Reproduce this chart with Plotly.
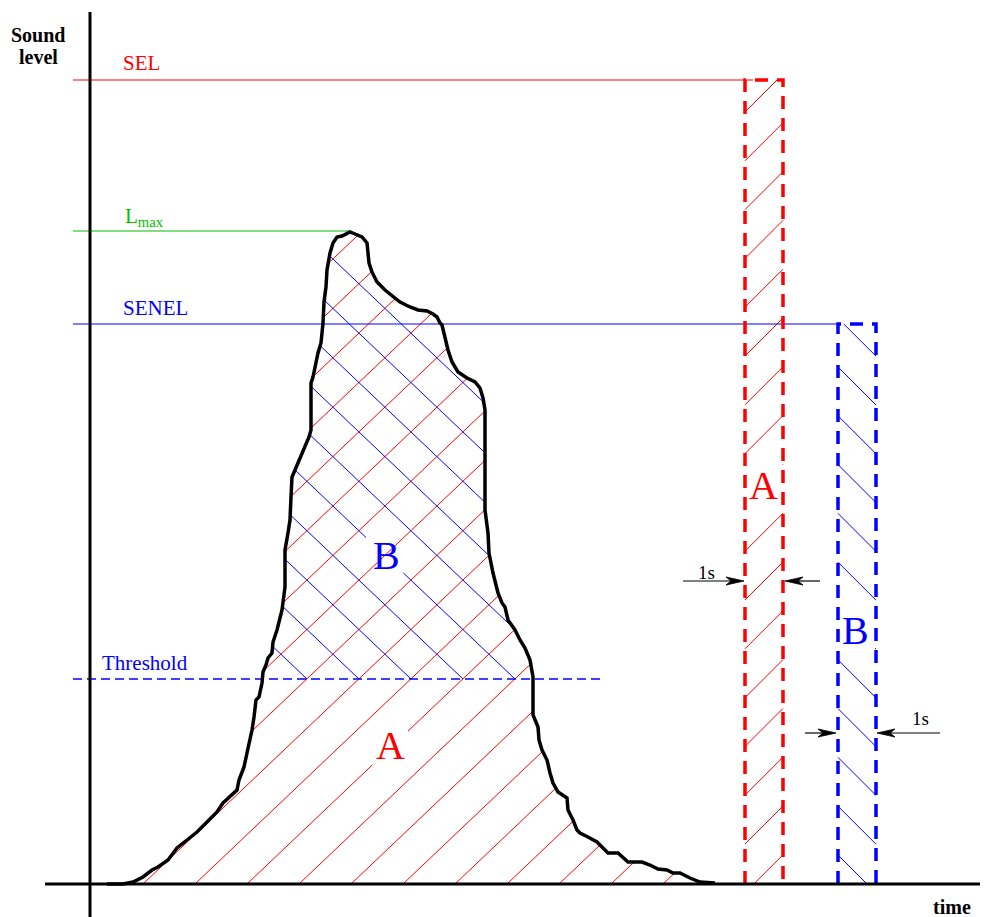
import plotly.graph_objects as go

# ---------------- data (time units / level units, origin at axes crossing) ----------------
curve_time = [17, 33, 43, 53, 62, 68, 78, 87, 97, 107, 117, 127, 133, 140, 147, 149, 152, 154, 157, 160,
              162, 164, 166, 169, 172, 173, 176, 178, 182, 183, 187, 192, 193, 195, 195, 195, 198, 200,
              201, 202, 205, 210, 217, 219, 221, 221, 221, 223, 228, 231, 233, 234, 236, 237, 240, 243,
              247, 252, 257, 260, 265, 272, 277, 278, 279, 282, 287, 295, 303, 310, 320, 328, 337, 343,
              347, 350, 352, 355, 358, 362, 368, 377, 385, 390, 393, 395, 395, 395, 398, 399, 403, 408,
              412, 415, 418, 425, 430, 435, 440, 443, 443, 443, 448, 449, 452, 457, 460, 463, 468, 477,
              478, 483, 487, 490, 498, 507, 512, 518, 528, 538, 552, 560, 568, 577, 583, 590, 600, 610, 625]
curve_level = [0, 0, 2, 7, 14, 17, 24, 36, 44, 52, 62, 72, 81, 87, 94, 104, 112, 117, 131, 144,
               154, 167, 184, 187, 201, 212, 219, 226, 231, 242, 254, 274, 281, 297, 317, 334, 351, 364,
               387, 407, 414, 426, 441, 447, 454, 484, 501, 507, 531, 541, 561, 582, 597, 614, 631, 641,
               647, 648, 651, 652, 650, 647, 641, 634, 621, 612, 602, 594, 587, 582, 577, 574, 573, 570,
               567, 561, 559, 547, 534, 522, 512, 506, 502, 496, 486, 474, 434, 374, 351, 331, 311, 291,
               281, 277, 264, 254, 244, 236, 224, 207, 184, 169, 157, 144, 134, 124, 111, 101, 92, 86,
               74, 64, 54, 51, 47, 42, 37, 31, 31, 22, 22, 19, 15, 14, 11, 11, 6, 2, 1]

SEL = 804
LMAX = 653
SENEL = 560
THRESHOLD = 205
EVENT_A_START = 655   # equivalent 1 s rectangle for SEL
EVENT_B_START = 748   # equivalent 1 s rectangle for SENEL
ONE_SECOND = 38

HATCH_GAP = 52        # spacing of hatch lines under the curve (time units)
HATCH_SLOPE = 0.95    # level per time unit
RED_HATCH_PHASE = 53
BLUE_HATCH_PHASE = 165
RECT_HATCH_GAP = 48.8
RED_RECT_FIRST = 772
BLUE_RECT_FIRST = 517

RED = "#ff0000"
BLUE = "#0000ff"
GREEN = "#00c000"
SERIF = "Liberation Serif"

# ---------------- geometry helpers ----------------
poly = list(zip(curve_time, curve_level)) + [(curve_time[-1], 0), (curve_time[0], 0)]


def segments_in_polygon(c, k):
    """line t = c + k*L ; returns list of (La, Lb) inside polygon"""
    hits = []
    n = len(poly)
    for i in range(n):
        t1, l1 = poly[i]
        t2, l2 = poly[(i + 1) % n]
        g1 = t1 - k * l1 - c
        g2 = t2 - k * l2 - c
        if (g1 >= 0) != (g2 >= 0):
            f = g1 / (g1 - g2)
            hits.append(l1 + f * (l2 - l1))
    hits.sort()
    return [(hits[i], hits[i + 1]) for i in range(0, len(hits) - 1, 2)]


def interval_in_box(c, k, t1, t2, l1, l2):
    a = (t1 - c) / k
    b = (t2 - c) / k
    lo, hi = max(min(a, b), l1), min(max(a, b), l2)
    return (lo, hi) if lo < hi else None


def subtract(seg, cut):
    if cut is None:
        return [seg]
    a, b = seg
    out = []
    if cut[0] > a:
        out.append((a, min(b, cut[0])))
    if cut[1] < b:
        out.append((max(a, cut[1]), b))
    return [s for s in out if s[1] > s[0]]


def to_xy(c, k, segs, xs, ys):
    for a, b in segs:
        xs += [c + k * a, c + k * b, None]
        ys += [a, b, None]


# red hatch under whole curve
rx, ry = [], []
A_BOX = (282, 318, 119, 157)
for j in range(-12, 25):
    c = RED_HATCH_PHASE + HATCH_GAP * j
    k = 1 / HATCH_SLOPE
    segs = segments_in_polygon(c, k)
    res = []
    for s in segs:
        res += subtract(s, interval_in_box(c, k, *A_BOX))
    to_xy(c, k, res, rx, ry)

# blue hatch above threshold
bx, by = [], []
B_BOX = (276, 318, 311, 352)
for j in range(-12, 25):
    k = -1 / HATCH_SLOPE
    c = BLUE_HATCH_PHASE + HATCH_GAP * j + THRESHOLD / HATCH_SLOPE
    segs = segments_in_polygon(c, k)
    res = []
    for a, b in segs:
        a = max(a, THRESHOLD)
        if a < b:
            res += subtract((a, b), interval_in_box(c, k, *B_BOX))
    to_xy(c, k, res, bx, by)

# hatch inside equivalent rectangles
rrx, rry = [], []
for j in range(-2, 20):
    L0 = RED_RECT_FIRST - RECT_HATCH_GAP * j
    c, k = EVENT_A_START - L0, 1.0
    seg = interval_in_box(c, k, EVENT_A_START, EVENT_A_START + ONE_SECOND, 0, SEL)
    if seg is None:
        continue
    res = subtract(seg, interval_in_box(c, k, EVENT_A_START - 5, EVENT_A_START + ONE_SECOND + 5, 381, 419))
    to_xy(c, k, res, rrx, rry)

bbx, bby = [], []
for j in range(-2, 20):
    L0 = BLUE_RECT_FIRST - RECT_HATCH_GAP * j
    c, k = EVENT_B_START + L0, -1.0
    seg = interval_in_box(c, k, EVENT_B_START, EVENT_B_START + ONE_SECOND, 0, SENEL)
    if seg is None:
        continue
    res = subtract(seg, interval_in_box(c, k, EVENT_B_START - 5, EVENT_B_START + ONE_SECOND + 5, 236, 272))
    to_xy(c, k, res, bbx, bby)

fig = go.Figure()


def line(x, y, color, width, dash="solid"):
    fig.add_trace(go.Scatter(x=x, y=y, mode="lines", hoverinfo="skip",
                             line=dict(color=color, width=width, dash=dash)))


line(rx, ry, RED, 1)
line(bx, by, BLUE, 1)
line(rrx, rry, RED, 1)
line(bbx, bby, BLUE, 1)

# reference level lines
line([-17, EVENT_A_START + 8], [SEL, SEL], RED, 1)
line([-17, 260], [LMAX, LMAX], GREEN, 1.2)
line([-17, EVENT_B_START], [SENEL, SENEL], BLUE, 1)
line([-17, 510], [THRESHOLD, THRESHOLD], BLUE, 1.6, "9px,5px")

# equivalent rectangles
aE = EVENT_A_START + ONE_SECOND
line([EVENT_A_START, EVENT_A_START, aE, aE], [0, SEL, SEL, 0], RED, 3.5, "13px,9px")
bE = EVENT_B_START + ONE_SECOND
line([EVENT_B_START, EVENT_B_START, bE, bE], [0, SENEL, SENEL, 0], BLUE, 3.5, "13px,9px")

# noise event curve
line(curve_time, curve_level, "black", 3.5)

# axes
line([0, 0], [-33, 872], "black", 3)
line([-45, 895], [0, 0], "black", 3)

# "1 s" width markers: shaft + slender barbed head pointing at the rectangle edge
HEAD_LEN, HEAD_HALF, HEAD_NOTCH = 18, 4, 13


def arrow(x0, x1, y):
    d = 1 if x1 > x0 else -1
    line([x0, x1 - d * HEAD_NOTCH], [y, y], "black", 1.2)
    fig.add_trace(go.Scatter(
        x=[x1, x1 - d * HEAD_LEN, x1 - d * HEAD_NOTCH, x1 - d * HEAD_LEN, x1],
        y=[y, y + HEAD_HALF, y, y - HEAD_HALF, y],
        mode="lines", fill="toself", fillcolor="black", hoverinfo="skip",
        line=dict(color="black", width=0.8)))


arrow(593, EVENT_A_START - 1, 303)
arrow(730, aE + 2, 303)
arrow(715, EVENT_B_START - 2, 151)
arrow(850, bE + 1, 151)

ann = []


def text(x, y, s, color, size, xanchor="center", bold=False):
    ann.append(dict(x=x, y=y, xref="x", yref="y", text=s, showarrow=False, xanchor=xanchor,
                    yanchor="middle", font=dict(family=SERIF, size=size, color=color,
                                                weight="bold" if bold else "normal")))


text(-52, 849, "Sound", "black", 20, bold=True)
text(-52, 827, "level", "black", 20, bold=True)
text(862, -23, "time", "black", 20, bold=True)
text(31, 821, "SEL", RED, 21, "left")
text(33, 667, "L<sub>max</sub>", GREEN, 21, "left")
text(31, 576, "SENEL", BLUE, 21, "left")
text(10, 221, "Threshold", BLUE, 21, "left")
text(300, 139, "A", RED, 40)
text(673, 399, "A", RED, 40)
text(296, 329, "B", BLUE, 40)
text(765, 254, "B", BLUE, 40)
text(616, 312, "1s", "black", 19)
text(830, 166, "1s", "black", 19)

# the page adds an 8 px body margin, so the figure is 8 px smaller and ranges start 8 units in
fig.update_layout(
    width=980, height=909, margin=dict(l=0, r=0, t=0, b=0),
    paper_bgcolor="white", plot_bgcolor="white", showlegend=False,
    xaxis=dict(range=[-82, 898], visible=False),
    yaxis=dict(range=[-33, 876], visible=False),
    annotations=ann,
)
fig.write_html("out.html")
